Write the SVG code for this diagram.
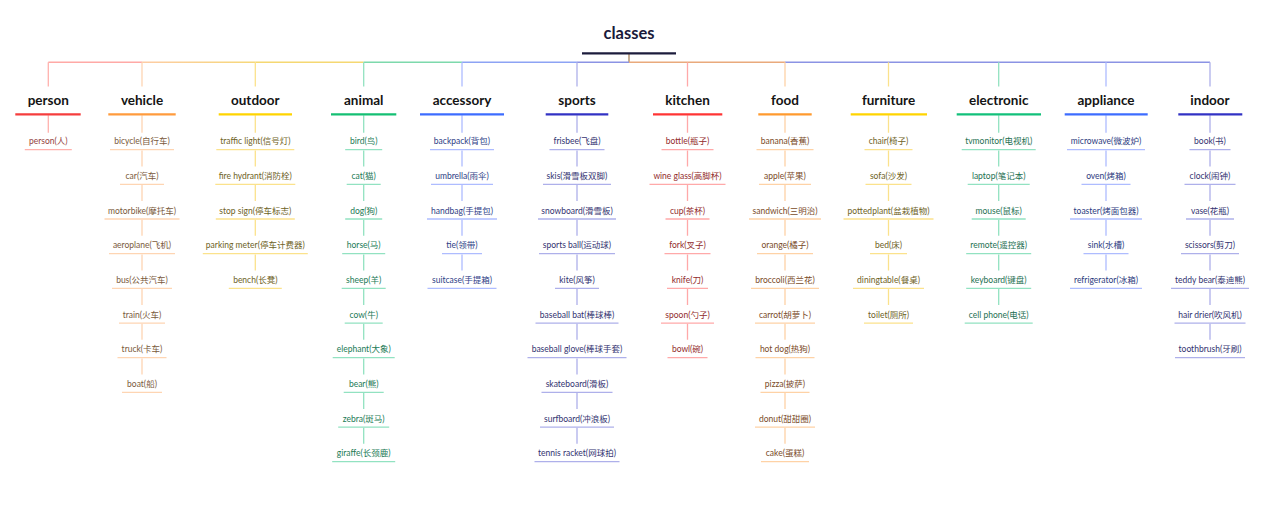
<svg xmlns="http://www.w3.org/2000/svg" width="1280" height="506" viewBox="0 0 1280 506">
<defs>
<linearGradient id="gVO" gradientUnits="userSpaceOnUse" x1="142" y1="0" x2="255.3" y2="0"><stop offset="0" stop-color="#fdcca5"/><stop offset="1" stop-color="#f6d878"/></linearGradient>
<style>
.r{font-family:Lato,"Noto Sans CJK SC",sans-serif;font-size:16.5px;font-weight:700;text-anchor:middle;fill:#1a1a3a}
.b{font-family:Lato,"Noto Sans CJK SC",sans-serif;font-size:13.5px;font-weight:700;text-anchor:middle;fill:#141414}
.l{font-family:Lato,"Noto Sans CJK SC",sans-serif;font-size:8.5px;text-anchor:middle}
.u{stroke-width:1.3;fill:none}
.m{stroke-width:2.2;fill:none}
.c{stroke-width:1.3;fill:none}
.h{stroke-width:1.6;fill:none}
.t1{fill:#94423e}.t2{fill:#7a5a3c}.t3{fill:#6e6226}.t4{fill:#227a56}.t5{fill:#2e3e86}.t6{fill:#323270}
.t7{fill:#922c2c}.t8{fill:#7a4b28}.t9{fill:#6e6226}.t10{fill:#1e7052}.t11{fill:#2c3b80}.t12{fill:#323270}
.p1{stroke:#ffb1ad}.p2{stroke:#fed5b3}.p3{stroke:#fbe28c}.p4{stroke:#92e2c1}.p5{stroke:#aebcff}.p6{stroke:#aeb0ea}
.p7{stroke:#ffa9a9}.p8{stroke:#fed2a6}.p9{stroke:#fbe28c}.p10{stroke:#92e2c1}.p11{stroke:#aebcff}.p12{stroke:#aeb0ea}
.k1{stroke:#f53d3d}.k2{stroke:#ff9b3d}.k3{stroke:#ffd400}.k4{stroke:#14bf73}.k5{stroke:#3d6cff}.k6{stroke:#3232c4}
.k7{stroke:#ff3434}.k8{stroke:#ff9a2e}.k9{stroke:#ffd400}.k10{stroke:#12c07a}.k11{stroke:#3d6cff}.k12{stroke:#3232c4}
</style>
</defs>
<rect width="1280" height="506" fill="#ffffff"/>

<g id="connectors">
<line class="h" x1="629" y1="53.3" x2="629" y2="62.3" stroke="#b89a7a"/>
<line class="h" x1="48.3" y1="62.3" x2="142" y2="62.3" stroke="#ffa9a6"/>
<line class="h" x1="142" y1="62.3" x2="255.3" y2="62.3" stroke="url(#gVO)"/>
<line class="h" x1="255.3" y1="62.3" x2="363.7" y2="62.3" stroke="#f5d872"/>
<line class="h" x1="363.7" y1="62.3" x2="462" y2="62.3" stroke="#7dd9ac"/>
<line class="h" x1="462" y1="62.3" x2="577" y2="62.3" stroke="#8da3f4"/>
<line class="h" x1="577" y1="62.3" x2="629" y2="62.3" stroke="#8b93e4"/>
<line class="h" x1="629" y1="62.3" x2="785" y2="62.3" stroke="#e9aa7c"/>
<line class="h" x1="785" y1="62.3" x2="1210" y2="62.3" stroke="#8b93e4"/>
<path class="c p1" d="M48.3,62.3V86.5"/>
<path class="c p2" d="M142,62.3V86.5"/>
<path class="c p3" d="M255.3,62.3V86.5"/>
<path class="c p4" d="M363.7,62.3V86.5"/>
<path class="c p5" d="M462,62.3V86.5"/>
<path class="c p6" d="M577,62.3V86.5"/>
<path class="c p7" d="M687.5,62.3V86.5"/>
<path class="c p8" d="M785,62.3V86.5"/>
<path class="c p9" d="M888.5,62.3V86.5"/>
<path class="c p10" d="M998.7,62.3V86.5"/>
<path class="c p11" d="M1106,62.3V86.5"/>
<path class="c p12" d="M1210,62.3V86.5"/>
<path class="c p1" d="M48.3,115.3V132.7"/>
<path class="c p2" d="M142,115.3V132.7M142,150.4V166.4M142,185.1V201M142,219.7V235.7M142,254.4V270.4M142,289.1V305.1M142,323.8V339.7M142,358.4V374.4"/>
<path class="c p3" d="M255.3,115.3V132.7M255.3,150.4V166.4M255.3,185.1V201M255.3,219.7V235.7M255.3,254.4V270.4"/>
<path class="c p4" d="M363.7,115.3V132.7M363.7,150.4V166.4M363.7,185.1V201M363.7,219.7V235.7M363.7,254.4V270.4M363.7,289.1V305.1M363.7,323.8V339.7M363.7,358.4V374.4M363.7,393.1V409.1M363.7,427.8V443.7"/>
<path class="c p5" d="M462,115.3V132.7M462,150.4V166.4M462,185.1V201M462,219.7V235.7M462,254.4V270.4"/>
<path class="c p6" d="M577,115.3V132.7M577,150.4V166.4M577,185.1V201M577,219.7V235.7M577,254.4V270.4M577,289.1V305.1M577,323.8V339.7M577,358.4V374.4M577,393.1V409.1M577,427.8V443.7"/>
<path class="c p7" d="M687.5,115.3V132.7M687.5,150.4V166.4M687.5,185.1V201M687.5,219.7V235.7M687.5,254.4V270.4M687.5,289.1V305.1M687.5,323.8V339.7"/>
<path class="c p8" d="M785,115.3V132.7M785,150.4V166.4M785,185.1V201M785,219.7V235.7M785,254.4V270.4M785,289.1V305.1M785,323.8V339.7M785,358.4V374.4M785,393.1V409.1M785,427.8V443.7"/>
<path class="c p9" d="M888.5,115.3V132.7M888.5,150.4V166.4M888.5,185.1V201M888.5,219.7V235.7M888.5,254.4V270.4M888.5,289.1V305.1"/>
<path class="c p10" d="M998.7,115.3V132.7M998.7,150.4V166.4M998.7,185.1V201M998.7,219.7V235.7M998.7,254.4V270.4M998.7,289.1V305.1"/>
<path class="c p11" d="M1106,115.3V132.7M1106,150.4V166.4M1106,185.1V201M1106,219.7V235.7M1106,254.4V270.4"/>
<path class="c p12" d="M1210,115.3V132.7M1210,150.4V166.4M1210,185.1V201M1210,219.7V235.7M1210,254.4V270.4M1210,289.1V305.1M1210,323.8V339.7"/>
</g>

<g id="root"><text class="r" x="629" y="38.5">classes</text><line x1="582" y1="53.3" x2="676" y2="53.3" stroke="#1c1c3c" stroke-width="2.2"/></g>

<g id="person"><text class="b" x="48.3" y="104.5">person</text><line class="m k1" x1="15.3" y1="114.3" x2="80.7" y2="114.3"/></g>
<g id="vehicle"><text class="b" x="142" y="104.5">vehicle</text><line class="m k2" x1="108.3" y1="114.3" x2="175.7" y2="114.3"/></g>
<g id="outdoor"><text class="b" x="255.3" y="104.5">outdoor</text><line class="m k3" x1="218.7" y1="114.3" x2="292" y2="114.3"/></g>
<g id="animal"><text class="b" x="363.7" y="104.5">animal</text><line class="m k4" x1="331" y1="114.3" x2="396.3" y2="114.3"/></g>
<g id="accessory"><text class="b" x="462" y="104.5">accessory</text><line class="m k5" x1="420" y1="114.3" x2="504" y2="114.3"/></g>
<g id="sports"><text class="b" x="577" y="104.5">sports</text><line class="m k6" x1="545.7" y1="114.3" x2="608.3" y2="114.3"/></g>
<g id="kitchen"><text class="b" x="687.5" y="104.5">kitchen</text><line class="m k7" x1="653" y1="114.3" x2="722.3" y2="114.3"/></g>
<g id="food"><text class="b" x="785" y="104.5">food</text><line class="m k8" x1="758.3" y1="114.3" x2="811.7" y2="114.3"/></g>
<g id="furniture"><text class="b" x="888.5" y="104.5">furniture</text><line class="m k9" x1="850.7" y1="114.3" x2="927" y2="114.3"/></g>
<g id="electronic"><text class="b" x="998.7" y="104.5">electronic</text><line class="m k10" x1="956.7" y1="114.3" x2="1041" y2="114.3"/></g>
<g id="appliance"><text class="b" x="1106" y="104.5">appliance</text><line class="m k11" x1="1064.7" y1="114.3" x2="1147.7" y2="114.3"/></g>
<g id="indoor"><text class="b" x="1210" y="104.5">indoor</text><line class="m k12" x1="1178.3" y1="114.3" x2="1242.3" y2="114.3"/></g>

<g id="person-person"><text class="l t1" x="48.3" y="144.4">person(人)</text><line class="u p1" x1="24.8" y1="149.7" x2="71.8" y2="149.7"/></g>

<g id="vehicle-bicycle"><text class="l t2" x="142" y="144.4">bicycle(自行车)</text><line class="u p2" x1="110" y1="149.7" x2="174" y2="149.7"/></g>
<g id="vehicle-car"><text class="l t2" x="142" y="179.1">car(汽车)</text><line class="u p2" x1="120" y1="184.4" x2="164" y2="184.4"/></g>
<g id="vehicle-motorbike"><text class="l t2" x="142" y="213.7">motorbike(摩托车)</text><line class="u p2" x1="104.5" y1="219" x2="179.5" y2="219"/></g>
<g id="vehicle-aeroplane"><text class="l t2" x="142" y="248.4">aeroplane(飞机)</text><line class="u p2" x1="109" y1="253.7" x2="175" y2="253.7"/></g>
<g id="vehicle-bus"><text class="l t2" x="142" y="283.1">bus(公共汽车)</text><line class="u p2" x1="112" y1="288.4" x2="172" y2="288.4"/></g>
<g id="vehicle-train"><text class="l t2" x="142" y="317.8">train(火车)</text><line class="u p2" x1="119" y1="323.1" x2="165" y2="323.1"/></g>
<g id="vehicle-truck"><text class="l t2" x="142" y="352.4">truck(卡车)</text><line class="u p2" x1="117.5" y1="357.7" x2="166.5" y2="357.7"/></g>
<g id="vehicle-boat"><text class="l t2" x="142" y="387.1">boat(船)</text><line class="u p2" x1="122" y1="392.4" x2="162" y2="392.4"/></g>

<g id="outdoor-traffic-light"><text class="l t3" x="255.3" y="144.4">traffic light(信号灯)</text><line class="u p3" x1="216.3" y1="149.7" x2="294.3" y2="149.7"/></g>
<g id="outdoor-fire-hydrant"><text class="l t3" x="255.3" y="179.1">fire hydrant(消防栓)</text><line class="u p3" x1="215.3" y1="184.4" x2="295.3" y2="184.4"/></g>
<g id="outdoor-stop-sign"><text class="l t3" x="255.3" y="213.7">stop sign(停车标志)</text><line class="u p3" x1="215.8" y1="219" x2="294.8" y2="219"/></g>
<g id="outdoor-parking-meter"><text class="l t3" x="255.3" y="248.4">parking meter(停车计费器)</text><line class="u p3" x1="202.8" y1="253.7" x2="307.8" y2="253.7"/></g>
<g id="outdoor-bench"><text class="l t3" x="255.3" y="283.1">bench(长凳)</text><line class="u p3" x1="228.8" y1="288.4" x2="281.8" y2="288.4"/></g>

<g id="animal-bird"><text class="l t4" x="363.7" y="144.4">bird(鸟)</text><line class="u p4" x1="345.2" y1="149.7" x2="382.2" y2="149.7"/></g>
<g id="animal-cat"><text class="l t4" x="363.7" y="179.1">cat(猫)</text><line class="u p4" x1="346.7" y1="184.4" x2="380.7" y2="184.4"/></g>
<g id="animal-dog"><text class="l t4" x="363.7" y="213.7">dog(狗)</text><line class="u p4" x1="345.2" y1="219" x2="382.2" y2="219"/></g>
<g id="animal-horse"><text class="l t4" x="363.7" y="248.4">horse(马)</text><line class="u p4" x1="342.2" y1="253.7" x2="385.2" y2="253.7"/></g>
<g id="animal-sheep"><text class="l t4" x="363.7" y="283.1">sheep(羊)</text><line class="u p4" x1="341.7" y1="288.4" x2="385.7" y2="288.4"/></g>
<g id="animal-cow"><text class="l t4" x="363.7" y="317.8">cow(牛)</text><line class="u p4" x1="344.7" y1="323.1" x2="382.7" y2="323.1"/></g>
<g id="animal-elephant"><text class="l t4" x="363.7" y="352.4">elephant(大象)</text><line class="u p4" x1="332.7" y1="357.7" x2="394.7" y2="357.7"/></g>
<g id="animal-bear"><text class="l t4" x="363.7" y="387.1">bear(熊)</text><line class="u p4" x1="343.7" y1="392.4" x2="383.7" y2="392.4"/></g>
<g id="animal-zebra"><text class="l t4" x="363.7" y="421.8">zebra(斑马)</text><line class="u p4" x1="338.2" y1="427.1" x2="389.2" y2="427.1"/></g>
<g id="animal-giraffe"><text class="l t4" x="363.7" y="456.4">giraffe(长颈鹿)</text><line class="u p4" x1="332.2" y1="461.7" x2="395.2" y2="461.7"/></g>

<g id="accessory-backpack"><text class="l t5" x="462" y="144.4">backpack(背包)</text><line class="u p5" x1="430" y1="149.7" x2="494" y2="149.7"/></g>
<g id="accessory-umbrella"><text class="l t5" x="462" y="179.1">umbrella(雨伞)</text><line class="u p5" x1="431" y1="184.4" x2="493" y2="184.4"/></g>
<g id="accessory-handbag"><text class="l t5" x="462" y="213.7">handbag(手提包)</text><line class="u p5" x1="427" y1="219" x2="497" y2="219"/></g>
<g id="accessory-tie"><text class="l t5" x="462" y="248.4">tie(领带)</text><line class="u p5" x1="442" y1="253.7" x2="482" y2="253.7"/></g>
<g id="accessory-suitcase"><text class="l t5" x="462" y="283.1">suitcase(手提箱)</text><line class="u p5" x1="427.5" y1="288.4" x2="496.5" y2="288.4"/></g>

<g id="sports-frisbee"><text class="l t6" x="577" y="144.4">frisbee(飞盘)</text><line class="u p6" x1="549.5" y1="149.7" x2="604.5" y2="149.7"/></g>
<g id="sports-skis"><text class="l t6" x="577" y="179.1">skis(滑雪板双脚)</text><line class="u p6" x1="543" y1="184.4" x2="611" y2="184.4"/></g>
<g id="sports-snowboard"><text class="l t6" x="577" y="213.7">snowboard(滑雪板)</text><line class="u p6" x1="538" y1="219" x2="616" y2="219"/></g>
<g id="sports-sports-ball"><text class="l t6" x="577" y="248.4">sports ball(运动球)</text><line class="u p6" x1="539" y1="253.7" x2="615" y2="253.7"/></g>
<g id="sports-kite"><text class="l t6" x="577" y="283.1">kite(风筝)</text><line class="u p6" x1="555" y1="288.4" x2="599" y2="288.4"/></g>
<g id="sports-baseball-bat"><text class="l t6" x="577" y="317.8">baseball bat(棒球棒)</text><line class="u p6" x1="535.5" y1="323.1" x2="618.5" y2="323.1"/></g>
<g id="sports-baseball-glove"><text class="l t6" x="577" y="352.4">baseball glove(棒球手套)</text><line class="u p6" x1="527.5" y1="357.7" x2="626.5" y2="357.7"/></g>
<g id="sports-skateboard"><text class="l t6" x="577" y="387.1">skateboard(滑板)</text><line class="u p6" x1="541.5" y1="392.4" x2="612.5" y2="392.4"/></g>
<g id="sports-surfboard"><text class="l t6" x="577" y="421.8">surfboard(冲浪板)</text><line class="u p6" x1="540" y1="427.1" x2="614" y2="427.1"/></g>
<g id="sports-tennis-racket"><text class="l t6" x="577" y="456.4">tennis racket(网球拍)</text><line class="u p6" x1="534.5" y1="461.7" x2="619.5" y2="461.7"/></g>

<g id="kitchen-bottle"><text class="l t7" x="687.5" y="144.4">bottle(瓶子)</text><line class="u p7" x1="661.5" y1="149.7" x2="713.5" y2="149.7"/></g>
<g id="kitchen-wine-glass"><text class="l t7" x="687.5" y="179.1">wine glass(高脚杯)</text><line class="u p7" x1="649.5" y1="184.4" x2="725.5" y2="184.4"/></g>
<g id="kitchen-cup"><text class="l t7" x="687.5" y="213.7">cup(茶杯)</text><line class="u p7" x1="665.5" y1="219" x2="709.5" y2="219"/></g>
<g id="kitchen-fork"><text class="l t7" x="687.5" y="248.4">fork(叉子)</text><line class="u p7" x1="664.5" y1="253.7" x2="710.5" y2="253.7"/></g>
<g id="kitchen-knife"><text class="l t7" x="687.5" y="283.1">knife(刀)</text><line class="u p7" x1="667" y1="288.4" x2="708" y2="288.4"/></g>
<g id="kitchen-spoon"><text class="l t7" x="687.5" y="317.8">spoon(勺子)</text><line class="u p7" x1="661" y1="323.1" x2="714" y2="323.1"/></g>
<g id="kitchen-bowl"><text class="l t7" x="687.5" y="352.4">bowl(碗)</text><line class="u p7" x1="667.5" y1="357.7" x2="707.5" y2="357.7"/></g>

<g id="food-banana"><text class="l t8" x="785" y="144.4">banana(香蕉)</text><line class="u p8" x1="756.5" y1="149.7" x2="813.5" y2="149.7"/></g>
<g id="food-apple"><text class="l t8" x="785" y="179.1">apple(苹果)</text><line class="u p8" x1="759" y1="184.4" x2="811" y2="184.4"/></g>
<g id="food-sandwich"><text class="l t8" x="785" y="213.7">sandwich(三明治)</text><line class="u p8" x1="749" y1="219" x2="821" y2="219"/></g>
<g id="food-orange"><text class="l t8" x="785" y="248.4">orange(橘子)</text><line class="u p8" x1="757" y1="253.7" x2="813" y2="253.7"/></g>
<g id="food-broccoli"><text class="l t8" x="785" y="283.1">broccoli(西兰花)</text><line class="u p8" x1="751" y1="288.4" x2="819" y2="288.4"/></g>
<g id="food-carrot"><text class="l t8" x="785" y="317.8">carrot(胡萝卜)</text><line class="u p8" x1="755" y1="323.1" x2="815" y2="323.1"/></g>
<g id="food-hot-dog"><text class="l t8" x="785" y="352.4">hot dog(热狗)</text><line class="u p8" x1="755.5" y1="357.7" x2="814.5" y2="357.7"/></g>
<g id="food-pizza"><text class="l t8" x="785" y="387.1">pizza(披萨)</text><line class="u p8" x1="760.5" y1="392.4" x2="809.5" y2="392.4"/></g>
<g id="food-donut"><text class="l t8" x="785" y="421.8">donut(甜甜圈)</text><line class="u p8" x1="755" y1="427.1" x2="815" y2="427.1"/></g>
<g id="food-cake"><text class="l t8" x="785" y="456.4">cake(蛋糕)</text><line class="u p8" x1="761" y1="461.7" x2="809" y2="461.7"/></g>

<g id="furniture-chair"><text class="l t9" x="888.5" y="144.4">chair(椅子)</text><line class="u p9" x1="864.5" y1="149.7" x2="912.5" y2="149.7"/></g>
<g id="furniture-sofa"><text class="l t9" x="888.5" y="179.1">sofa(沙发)</text><line class="u p9" x1="865.5" y1="184.4" x2="911.5" y2="184.4"/></g>
<g id="furniture-pottedplant"><text class="l t9" x="888.5" y="213.7">pottedplant(盆栽植物)</text><line class="u p9" x1="843.5" y1="219" x2="933.5" y2="219"/></g>
<g id="furniture-bed"><text class="l t9" x="888.5" y="248.4">bed(床)</text><line class="u p9" x1="870" y1="253.7" x2="907" y2="253.7"/></g>
<g id="furniture-diningtable"><text class="l t9" x="888.5" y="283.1">diningtable(餐桌)</text><line class="u p9" x1="853" y1="288.4" x2="924" y2="288.4"/></g>
<g id="furniture-toilet"><text class="l t9" x="888.5" y="317.8">toilet(厕所)</text><line class="u p9" x1="864" y1="323.1" x2="913" y2="323.1"/></g>

<g id="electronic-tvmonitor"><text class="l t10" x="998.7" y="144.4">tvmonitor(电视机)</text><line class="u p10" x1="961.7" y1="149.7" x2="1035.7" y2="149.7"/></g>
<g id="electronic-laptop"><text class="l t10" x="998.7" y="179.1">laptop(笔记本)</text><line class="u p10" x1="967.7" y1="184.4" x2="1029.7" y2="184.4"/></g>
<g id="electronic-mouse"><text class="l t10" x="998.7" y="213.7">mouse(鼠标)</text><line class="u p10" x1="971.7" y1="219" x2="1025.7" y2="219"/></g>
<g id="electronic-remote"><text class="l t10" x="998.7" y="248.4">remote(遥控器)</text><line class="u p10" x1="966.2" y1="253.7" x2="1031.2" y2="253.7"/></g>
<g id="electronic-keyboard"><text class="l t10" x="998.7" y="283.1">keyboard(键盘)</text><line class="u p10" x1="966.2" y1="288.4" x2="1031.2" y2="288.4"/></g>
<g id="electronic-cell-phone"><text class="l t10" x="998.7" y="317.8">cell phone(电话)</text><line class="u p10" x1="964.7" y1="323.1" x2="1032.7" y2="323.1"/></g>

<g id="appliance-microwave"><text class="l t11" x="1106" y="144.4">microwave(微波炉)</text><line class="u p11" x1="1067" y1="149.7" x2="1145" y2="149.7"/></g>
<g id="appliance-oven"><text class="l t11" x="1106" y="179.1">oven(烤箱)</text><line class="u p11" x1="1081.5" y1="184.4" x2="1130.5" y2="184.4"/></g>
<g id="appliance-toaster"><text class="l t11" x="1106" y="213.7">toaster(烤面包器)</text><line class="u p11" x1="1070" y1="219" x2="1142" y2="219"/></g>
<g id="appliance-sink"><text class="l t11" x="1106" y="248.4">sink(水槽)</text><line class="u p11" x1="1083.5" y1="253.7" x2="1128.5" y2="253.7"/></g>
<g id="appliance-refrigerator"><text class="l t11" x="1106" y="283.1">refrigerator(冰箱)</text><line class="u p11" x1="1070" y1="288.4" x2="1142" y2="288.4"/></g>

<g id="indoor-book"><text class="l t12" x="1210" y="144.4">book(书)</text><line class="u p12" x1="1189.5" y1="149.7" x2="1230.5" y2="149.7"/></g>
<g id="indoor-clock"><text class="l t12" x="1210" y="179.1">clock(闹钟)</text><line class="u p12" x1="1184.5" y1="184.4" x2="1235.5" y2="184.4"/></g>
<g id="indoor-vase"><text class="l t12" x="1210" y="213.7">vase(花瓶)</text><line class="u p12" x1="1186" y1="219" x2="1234" y2="219"/></g>
<g id="indoor-scissors"><text class="l t12" x="1210" y="248.4">scissors(剪刀)</text><line class="u p12" x1="1181" y1="253.7" x2="1239" y2="253.7"/></g>
<g id="indoor-teddy-bear"><text class="l t12" x="1210" y="283.1">teddy bear(泰迪熊)</text><line class="u p12" x1="1171" y1="288.4" x2="1249" y2="288.4"/></g>
<g id="indoor-hair-drier"><text class="l t12" x="1210" y="317.8">hair drier(吹风机)</text><line class="u p12" x1="1174.5" y1="323.1" x2="1245.5" y2="323.1"/></g>
<g id="indoor-toothbrush"><text class="l t12" x="1210" y="352.4">toothbrush(牙刷)</text><line class="u p12" x1="1175" y1="357.7" x2="1245" y2="357.7"/></g>
</svg>
